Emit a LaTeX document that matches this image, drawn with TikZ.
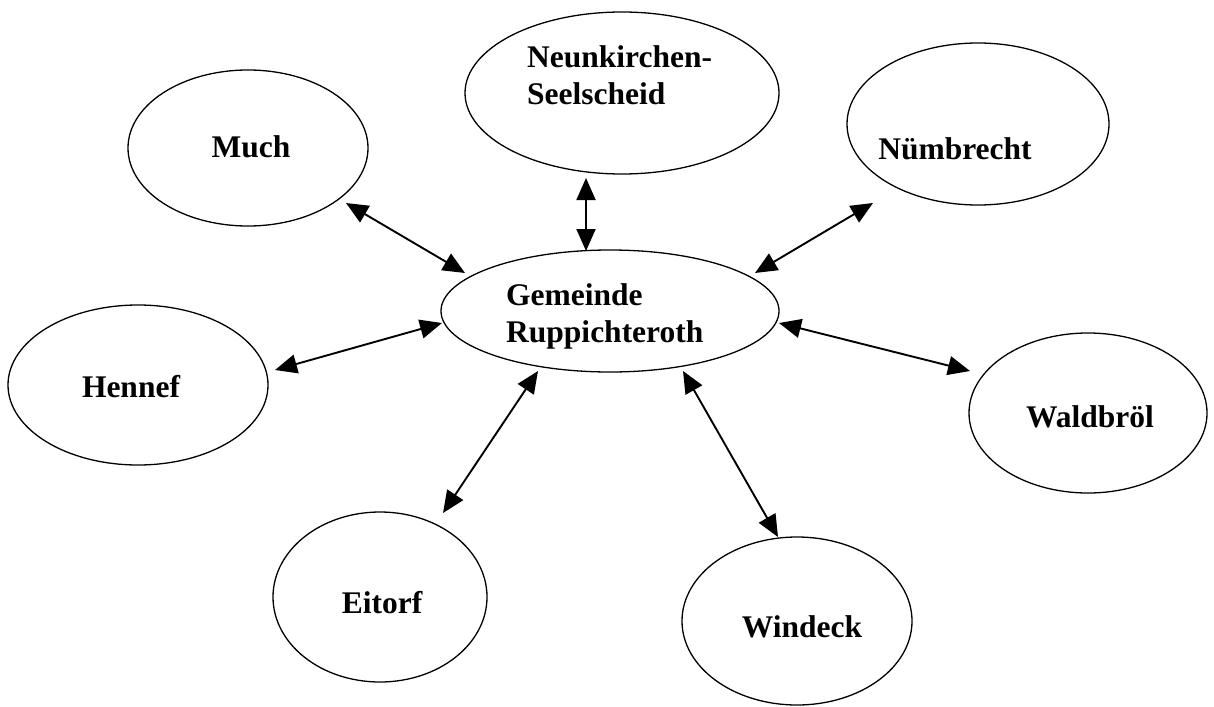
\documentclass[tikz,border=0pt]{standalone}
\usepackage{fontspec}
\setmainfont{Liberation Serif}
\usetikzlibrary{shapes.geometric,arrows.meta}
\begin{document}
\begin{tikzpicture}[x=1pt,y=-1pt,
  town/.style={draw,ellipse,line width=1.3pt,inner sep=0pt},
  lbl/.style={font=\fontsize{31.5}{37}\selectfont\bfseries,inner sep=0pt,align=left},
  link/.style={line width=1.9pt,{Triangle[length=22pt,width=19pt]}-{Triangle[length=22pt,width=19pt]}}]
\useasboundingbox (0,0) rectangle (1214,706);
% ellipses
\node[town,minimum width=240pt,minimum height=156pt] (much) at (248,148) {};
\node[town,minimum width=314pt,minimum height=162pt] (neun) at (622,93) {};
\node[town,minimum width=262pt,minimum height=162pt] (nuem) at (978,124) {};
\node[town,minimum width=338pt,minimum height=122pt] (gem) at (610,311) {};
\node[town,minimum width=260pt,minimum height=160pt] (henn) at (138,385) {};
\node[town,minimum width=238pt,minimum height=160pt] (wald) at (1088,413) {};
\node[town,minimum width=214pt,minimum height=170pt] (eit) at (380,597) {};
\node[town,minimum width=230pt,minimum height=168pt] (wind) at (797,621) {};
% labels
\node[lbl,anchor=base] (tmuch) at (251,157) {Much};
\node[lbl,anchor=base west] (tneun) at (527,105) {Neunkirchen-\\Seelscheid};
\node[lbl,anchor=base] (tnuem) at (955,159) {Nümbrecht};
\node[lbl,anchor=base west] (tgem) at (506,342) {Gemeinde\\Ruppichteroth};
\node[lbl,anchor=base] (thenn) at (131,397) {Hennef};
\node[lbl,anchor=base] (twald) at (1090,427) {Waldbröl};
\node[lbl,anchor=base] (teit) at (382,613) {Eitorf};
\node[lbl,anchor=base] (twind) at (802,637) {Windeck};
% arrow end points
\coordinate (m1) at (346,203); \coordinate (m2) at (465,273);
\coordinate (n1) at (586,178); \coordinate (n2) at (586,251);
\coordinate (u1) at (873,203); \coordinate (u2) at (755,273);
\coordinate (h1) at (275,370); \coordinate (h2) at (442,323);
\coordinate (w1) at (779,323); \coordinate (w2) at (970,371);
\coordinate (e1) at (538,371); \coordinate (e2) at (443,513);
\coordinate (d1) at (683,371); \coordinate (d2) at (778,537);
% connectors
\draw[link] (m1) -- (m2);
\draw[link] (n1) -- (n2);
\draw[link] (u1) -- (u2);
\draw[link] (h1) -- (h2);
\draw[link] (w1) -- (w2);
\draw[link] (e1) -- (e2);
\draw[link] (d1) -- (d2);
\end{tikzpicture}
\end{document}
